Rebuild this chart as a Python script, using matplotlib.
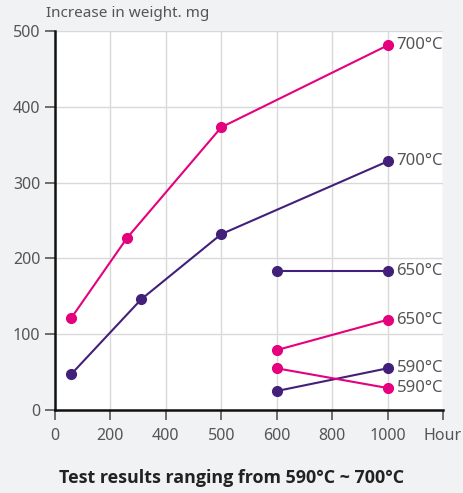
import numpy as np
import matplotlib.pyplot as plt

plt.rcParams['font.family'] = ['Noto Sans', 'DejaVu Sans']

# x axis is not linear: the tick labels sit at equal steps
hour_ticks = [0, 200, 400, 500, 600, 800, 1000]

# weight increase (mg) against test hours
pink_700_h = [58, 260, 500, 1000]
pink_700_w = [121, 227, 373, 481]
purple_700_h = [58, 311, 500, 1000]
purple_700_w = [47, 146, 232, 328]
purple_650_h = [600, 1000]
purple_650_w = [184, 184]
pink_650_h = [600, 1000]
pink_650_w = [79, 119]
pink_590_h = [600, 1000]
pink_590_w = [55, 29]
purple_590_h = [600, 1000]
purple_590_w = [25, 55]

PINK = '#e5007e'
PURPLE = '#42207a'
GREY = '#555555'


def hpos(h):
    return np.interp(h, hour_ticks, np.arange(len(hour_ticks)))


fig = plt.figure(figsize=(4.63, 4.93), dpi=100, facecolor='#f1f2f4')
ax = fig.add_axes([0.1188, 0.1684, 0.838, 0.7687])
ax.set_facecolor('white')

series = [
    (pink_700_h, pink_700_w, PINK, '700°C'),
    (purple_700_h, purple_700_w, PURPLE, '700°C'),
    (purple_650_h, purple_650_w, PURPLE, '650°C'),
    (pink_650_h, pink_650_w, PINK, '650°C'),
    (purple_590_h, purple_590_w, PURPLE, '590°C'),
    (pink_590_h, pink_590_w, PINK, '590°C'),
]
for h, w, c, lab in series:
    x = hpos(h)
    ax.plot(x, w, color=c, lw=1.5, marker='o', ms=7, zorder=3, clip_on=False)
    ax.annotate(lab, (x[-1], w[-1]), xytext=(6.5, 0), textcoords='offset points',
                va='center', ha='left', fontsize=12, color=GREY)

ax.set_xlim(0, 7)
ax.set_ylim(0, 500)
ax.set_xticks(np.arange(len(hour_ticks) + 1))
ax.set_xticklabels([str(t) for t in hour_ticks] + ['Hour'])
ax.set_yticks(range(0, 501, 100))
ax.grid(True, color='#d9d9d9', lw=1)
ax.set_axisbelow(True)
for s in ['top', 'right']:
    ax.spines[s].set_visible(False)
for s in ['left', 'bottom']:
    ax.spines[s].set_linewidth(1.8)
    ax.spines[s].set_color('#111111')
ax.tick_params(axis='both', labelsize=11.5, labelcolor=GREY, color=GREY, length=7, width=1.2)
ax.tick_params(axis='x', pad=6)

fig.text(0.099, 0.972, 'Increase in weight. mg', fontsize=11, color=GREY, ha='left', va='center')
fig.text(0.5, 0.03, 'Test results ranging from 590°C ~ 700°C', fontsize=12.9,
         fontweight='bold', family=['Open Sans', 'DejaVu Sans'], color='#222222',
         ha='center', va='center')

fig.savefig('out.png', dpi=100, facecolor=fig.get_facecolor())
